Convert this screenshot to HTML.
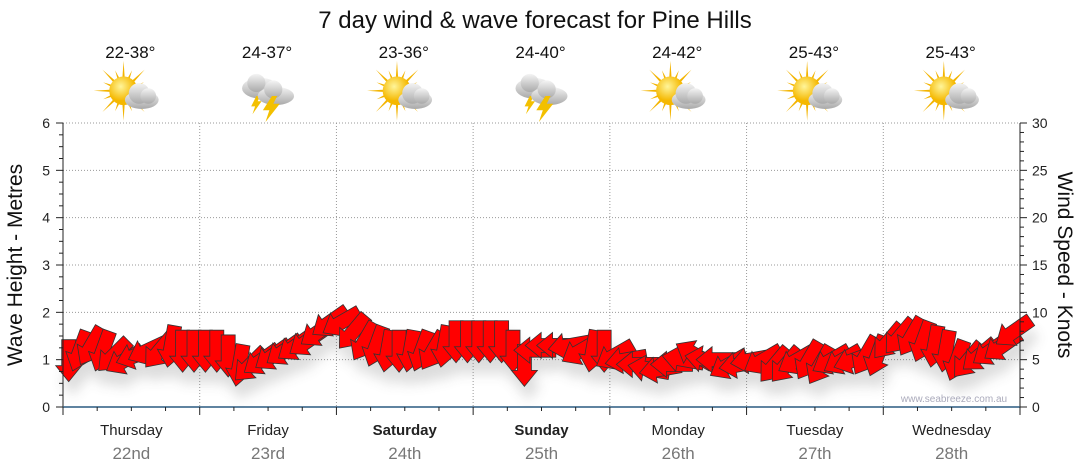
<!DOCTYPE html>
<html><head><meta charset="utf-8"><style>
body{margin:0;background:#fff;}
svg{display:block;font-family:"Liberation Sans","DejaVu Sans",sans-serif;}
</style></head><body>
<svg id="chart" width="1080" height="475" viewBox="0 0 1080 475">
<defs>
<filter id="sh" x="-50%" y="-50%" width="200%" height="200%"><feGaussianBlur stdDeviation="6"/></filter>
<radialGradient id="sunG" cx="40%" cy="35%"><stop offset="0" stop-color="#fff59a"/><stop offset="1" stop-color="#f5b800"/></radialGradient>
<linearGradient id="cloudG" x1="0" y1="0" x2="0" y2="1"><stop offset="0" stop-color="#f4f4f4"/><stop offset="1" stop-color="#a9a9a9"/></linearGradient>
</defs>
<text x="535" y="28" text-anchor="middle" font-size="24" fill="#111">7 day wind &amp; wave forecast for Pine Hills</text>
<g id="grid"></g>
<g id="icons"></g>
<g id="shadows" filter="url(#sh)" opacity="0.2"></g>
<g id="arrows"></g>
<g id="axes"></g>
<text x="954" y="402" text-anchor="middle" font-size="10" fill="#aab">www.seabreeze.com.au</text>
<text transform="translate(22,265) rotate(-90)" text-anchor="middle" font-size="21" fill="#111">Wave Height - Metres</text>
<text transform="translate(1058,265) rotate(90)" text-anchor="middle" font-size="21" fill="#111">Wind Speed - Knots</text>
</svg>
<script>
const days=["Thursday","Friday","Saturday","Sunday","Monday","Tuesday","Wednesday"];
const dates=["22nd","23rd","24th","25th","26th","27th","28th"];
const temps=["22-38°","24-37°","23-36°","24-40°","24-42°","25-43°","25-43°"];
const icons=["sun","storm","sun","storm","sun","sun","sun"];
const boldDays=[false,false,true,true,false,false,false];
const leftTicks=[0,1,2,3,4,5,6];
const rightTicks=[0,5,10,15,20,25,30];
const windSpeed=[5,6,6.5,6,5.5,5,5.5,6,6,6.5,6,6,
 6,6,5.5,4.5,4.5,5,5.5,6,6.5,7,8,9,
 9,8,7,6.5,6,6,6,6,6,6.5,7,7,
 7,7,7,6,4.5,6,6.5,6.5,6.5,6,6,6,
 5.5,5,4.5,4,4,4.5,5,5.5,5,5,4.5,4.5,
 5,5,4.5,4.5,5,5,4.5,5,5,5,5.5,5.5,
 7,7.5,7.5,7,6.5,6,5,5,5.5,6,6.5,8];
const windDir=[0,20,30,20,45,60,70,65,40,10,0,0,
 0,0,0,10,45,55,55,55,55,55,55,55,
 60,40,30,20,10,0,10,20,30,10,0,0,
 0,0,0,0,0,90,90,90,80,60,10,0,
 60,80,90,100,80,90,100,120,100,90,60,80,
 80,60,40,40,60,30,30,60,60,70,30,20,
 40,40,30,20,10,10,20,40,50,55,55,55];
const NS="http://www.w3.org/2000/svg";
const X0=63,X1=1020,Y0=407,Y1=123;
const dayW=(X1-X0)/7;
const yL=v=>Y0-(Y0-Y1)*v/6;
const yR=v=>Y0-(Y0-Y1)*v/30;
const xT=t=>X0+(X1-X0)*t/windSpeed.length;
function mk(tag,attrs,parent){const e=document.createElementNS(NS,tag);for(const k in attrs)e.setAttribute(k,attrs[k]);parent.appendChild(e);return e;}
const grid=document.getElementById('grid'),axes=document.getElementById('axes'),icG=document.getElementById('icons');
leftTicks.slice(1).forEach(v=>{const l=mk('line',{x1:X0,x2:X1,y1:yL(v),y2:yL(v),stroke:'#999','stroke-dasharray':'1,2'},grid);

});
for(let d=1;d<7;d++){const l=mk('line',{x1:X0+d*dayW,x2:X0+d*dayW,y1:Y1,y2:Y0,stroke:'#999','stroke-dasharray':'1,2'},grid);

}
mk('line',{x1:X0,x2:X0,y1:Y1,y2:Y0,stroke:'#222'},axes);
mk('line',{x1:X1,x2:X1,y1:Y1,y2:Y0,stroke:'#222'},axes);
mk('line',{x1:X0,x2:X1,y1:Y0,y2:Y0,stroke:'#2a5a80','stroke-width':1.5},axes);
for(let i=0;i<=24;i++){const y=yL(i/4);mk('line',{x1:X0-(i%4?4:7),x2:X0,y1:y,y2:y,stroke:'#222'},axes);}
leftTicks.forEach(v=>{const t=mk('text',{x:X0-13,y:yL(v)+5,'text-anchor':'end','font-size':14,fill:'#222'},axes);t.textContent=v;

});
for(let i=0;i<=30;i++){const y=yR(i);mk('line',{x1:X1,x2:X1+(i%5?4:7),y1:y,y2:y,stroke:'#222'},axes);}
rightTicks.forEach(v=>{const t=mk('text',{x:X1+12,y:yR(v)+5,'font-size':14,fill:'#222'},axes);t.textContent=v;

});
for(let i=0;i<=28;i++){const x=X0+i*dayW/4;mk('line',{x1:x,x2:x,y1:Y0,y2:Y0+(i%4?4:8),stroke:'#222'},axes);}
days.forEach((d,i)=>{const cx=X0+(i+0.5)*dayW;
const t=mk('text',{x:cx,y:435,'text-anchor':'middle','font-size':15,fill:'#222','font-weight':boldDays[i]?'bold':'normal'},axes);t.textContent=d;


const t2=mk('text',{x:cx,y:459,'text-anchor':'middle','font-size':17,fill:'#777'},axes);t2.textContent=dates[i];


const t3=mk('text',{x:cx-1,y:58,'text-anchor':'middle','font-size':17,fill:'#111'},icG);t3.textContent=temps[i];


const g=mk('g',{transform:`translate(${cx},96) scale(1.3)`},icG);


if(icons[i]==='sun'){
 for(let r=0;r<16;r++){const a=r*Math.PI/8;const L=r%2?17:23;mk('polygon',{points:`${-6+Math.cos(a+0.13)*8},${-4+Math.sin(a+0.13)*8} ${-6+Math.cos(a)*L},${-4+Math.sin(a)*L} ${-6+Math.cos(a-0.13)*8},${-4+Math.sin(a-0.13)*8}`,fill:'#f3b400'},g);}
 mk('circle',{cx:-6,cy:-4,r:11,fill:'url(#sunG)'},g);
 mk('ellipse',{cx:8,cy:3,rx:13,ry:7,fill:'url(#cloudG)'},g);
 mk('circle',{cx:6,cy:-2,r:8,fill:'url(#cloudG)'},g);
 mk('circle',{cx:13,cy:0,r:6,fill:'url(#cloudG)'},g);
}else{
 mk('ellipse',{cx:-6,cy:-6,rx:14,ry:8,fill:'url(#cloudG)'},g);
 mk('circle',{cx:-9,cy:-10,r:7,fill:'url(#cloudG)'},g);
 mk('polygon',{points:'-9,0 -13,8 -10,8 -12,14 -5,4 -8,4 -6,0',fill:'#f3c000'},g);
 mk('ellipse',{cx:6,cy:0,rx:14,ry:7,fill:'url(#cloudG)'},g);
 mk('circle',{cx:4,cy:-5,r:7,fill:'url(#cloudG)'},g);
 mk('polygon',{points:'3,0 -4,11 1,11 -2,20 9,6 4,6 7,0',fill:'#f3c000'},g);
}});
const arrG=document.getElementById('arrows'),shG=document.getElementById('shadows');
const shape="-7,-20 7,-20 7,6 13,6 0,22 -13,6 -7,6";
windSpeed.forEach((s,i)=>{
 const x=xT(i+0.5),y=yR(s);
 const sh=mk('polygon',{points:shape,fill:'#555',transform:`translate(${x+4},${y+14}) rotate(${windDir[i]})`},shG);
 
 
 const p=mk('polygon',{points:shape,fill:'#f00',stroke:'#333','stroke-width':0.8,transform:`translate(${x},${y}) rotate(${windDir[i]})`},arrG);
 
 
});
</script>
</body></html>
